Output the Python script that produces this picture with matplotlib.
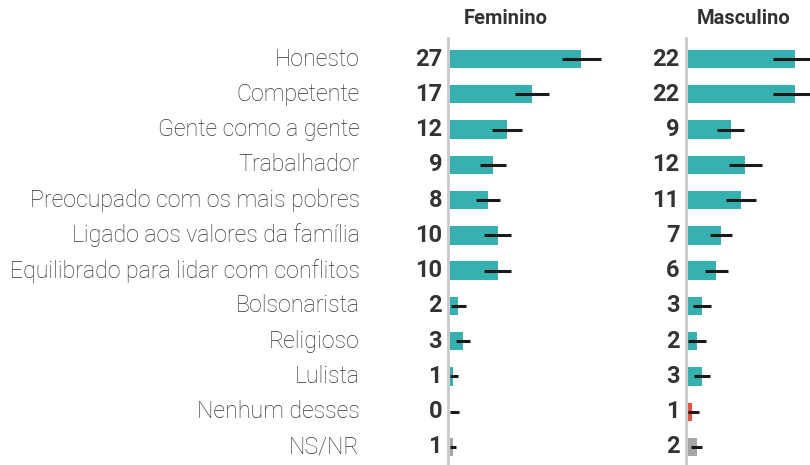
import matplotlib
matplotlib.use("Agg")
import matplotlib.pyplot as plt

categories = ["Honesto", "Competente", "Gente como a gente", "Trabalhador",
              "Preocupado com os mais pobres", "Ligado aos valores da família",
              "Equilibrado para lidar com conflitos", "Bolsonarista", "Religioso",
              "Lulista", "Nenhum desses", "NS/NR"]
fem_labels = [27, 17, 12, 9, 8, 10, 10, 2, 3, 1, 0, 1]
fem_values = [27.0, 16.9, 11.7, 8.8, 7.8, 9.8, 9.8, 1.7, 2.7, 0.6, 0.0, 0.6]
fem_moe = [4.0, 3.5, 3.0, 2.7, 2.5, 2.8, 2.8, 1.5, 1.5, 1.1, 1.8, 0.7]
masc_labels = [22, 22, 9, 12, 11, 7, 6, 3, 2, 3, 1, 2]
masc_values = [22.1, 22.1, 8.9, 11.85, 10.97, 6.85, 5.9, 3.0, 1.95, 3.0, 0.9, 1.9]
masc_moe = [4.5, 4.5, 2.8, 3.4, 3.1, 2.3, 2.4, 1.9, 1.8, 1.7, 1.4, 1.1]
panel_titles = ["Feminino", "Masculino"]

TEAL = "#36b1af"
RED = "#e9523e"
GRAY = "#a6a6a6"
colors = [TEAL] * 10 + [RED, GRAY]

plt.rcParams['font.family'] = ['Roboto', 'DejaVu Sans']

W, H = 810, 465
fig = plt.figure(figsize=(W / 100, H / 100), dpi=100)

px_per_unit = 4.87
row_top_px, row_step = 59.0, 35.27
ax_top_px = 38.0
ylim_top = -(row_top_px - ax_top_px) / row_step
ylim_bot = 11 + (H - 447) / row_step

panels = [
    (450.0, 686.5 - 450.0 - 10, fem_values, fem_moe, fem_labels),
    (687.5, W - 687.5, masc_values, masc_moe, masc_labels),
]

for i, (x0, wpx, vals, moe, labs) in enumerate(panels):
    ax = fig.add_axes([x0 / W, 0, wpx / W, (H - ax_top_px) / H])
    ax.set_xlim(0, wpx / px_per_unit)
    ax.set_ylim(ylim_bot, ylim_top)
    ypos = list(range(len(categories)))
    ax.barh(ypos, vals, height=0.52, color=colors, zorder=2)
    lo = [max(v - m, 0) for v, m in zip(vals, moe)]
    hi = [v + m for v, m in zip(vals, moe)]
    ax.hlines(ypos, lo, hi, color="#1a1a1a", linewidth=2.2, zorder=3,
              capstyle="butt")
    ax.axvline(-1.6 / px_per_unit, color="#c9c9c9", linewidth=2.0, zorder=4,
               clip_on=False)
    for y, lab in zip(ypos, labs):
        ax.annotate(str(lab), xy=(0, y), xytext=(-8, 0), textcoords="offset pixels",
                    ha="right", va="center", fontsize=17, fontweight="bold",
                    color="#333333")
    ax.axis("off")
    fig.text((x0 + 56) / W, 1 - 18 / H, panel_titles[i], ha="center", va="center",
             fontsize=14.5, fontweight="bold", color="#333333")
    if i == 0:
        for y, cat in zip(ypos, categories):
            ax.annotate(cat, xy=(0, y), xytext=(359.5 - x0, 0),
                        textcoords="offset pixels", ha="right", va="center",
                        fontsize=16.7, fontweight="light", color="#333333")

fig.savefig("out.png", dpi=100)
